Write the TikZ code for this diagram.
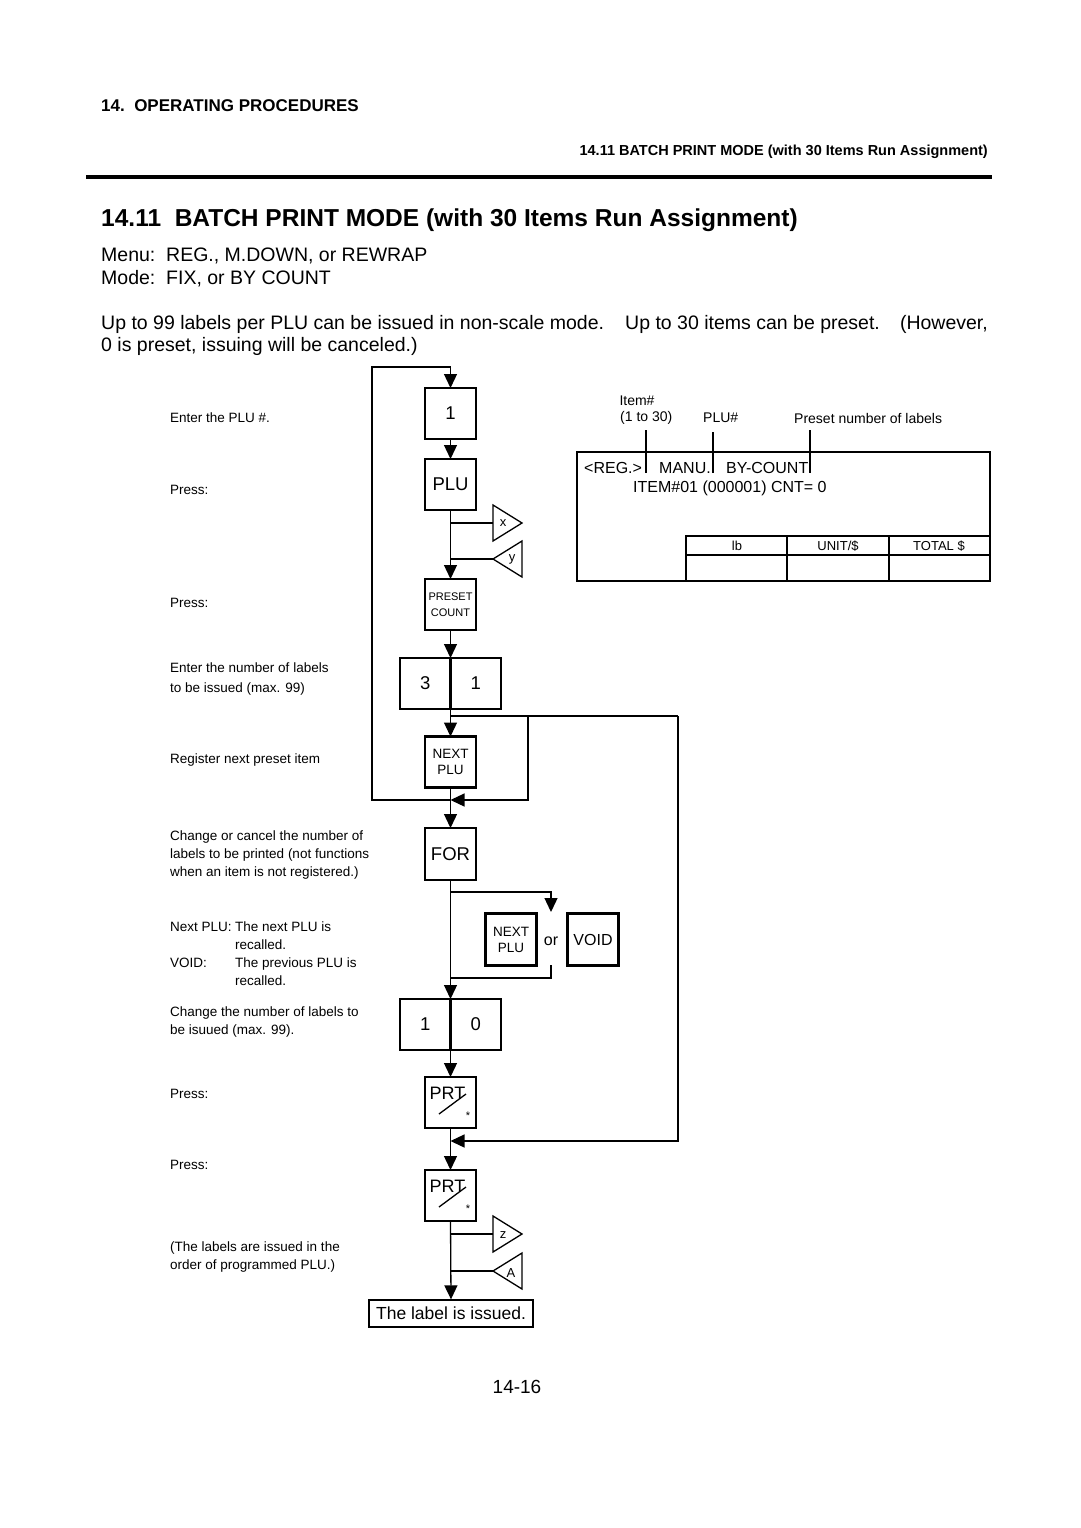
\documentclass[tikz,border=0pt]{standalone}
\usepackage{fontspec}
\setmainfont{Liberation Sans}
\usetikzlibrary{arrows.meta}
\begin{document}
\begin{tikzpicture}[x=1pt,y=-1pt,
  thinl/.style={line width=1.3pt},
  flow/.style={line width=1.3pt,-{Triangle[width=13pt,length=14pt]}},
  keybox/.style={draw,line width=2.8pt,minimum width=51pt,minimum height=51pt,inner sep=0pt,outer sep=0pt},
  bigk/.style={keybox,font=\fontsize{18.5}{20}\selectfont},
  smallk/.style={keybox,font=\fontsize{13.5}{16}\selectfont,align=center},
  note/.style={anchor=west,inner sep=0pt,font=\fontsize{13.5}{18}\selectfont,align=left},
  disp/.style={anchor=west,inner sep=0pt,font=\fontsize{16}{18}\selectfont},
  lab/.style={inner sep=0pt,font=\fontsize{14}{17}\selectfont},
  tri/.style={line width=1.3pt,fill=white},
  trit/.style={inner sep=0pt,font=\fontsize{13}{14}\selectfont},
]
\fill[white] (0,0) rectangle (1080,1528);
\useasboundingbox (0,0) rectangle (1080,1528);

% ---------- header ----------
\node[anchor=west,inner sep=0pt,font=\bfseries\fontsize{17}{20}\selectfont] (h1) at (101,106) {14.\ \ OPERATING PROCEDURES};
\node[anchor=east,inner sep=0pt,font=\bfseries\fontsize{14.5}{17}\selectfont] (h2) at (988,152) {14.11 BATCH PRINT MODE (with 30 Items Run Assignment)};
\draw[line width=3.5pt] (86,177) -- (992,177);
\node[anchor=west,inner sep=0pt,font=\bfseries\fontsize{24.5}{28}\selectfont] (title) at (101,220) {14.11\ \ BATCH PRINT MODE (with 30 Items Run Assignment)};
\node[anchor=west,inner sep=0pt,font=\fontsize{19.5}{23}\selectfont] (menu) at (101,256) {Menu:\ \ REG., M.DOWN, or REWRAP};
\node[anchor=west,inner sep=0pt,font=\fontsize{19.5}{23}\selectfont] (mode) at (101,279) {Mode:\ \ FIX, or BY COUNT};
\node[anchor=west,inner sep=0pt,font=\fontsize{19.5}{23}\selectfont] (p1a) at (101,324) {Up to 99 labels per PLU can be issued in non-scale mode.};
\node[anchor=west,inner sep=0pt,font=\fontsize{19.5}{23}\selectfont] (p1b) at (625,324) {Up to 30 items can be preset.};
\node[anchor=east,inner sep=0pt,font=\fontsize{19.5}{23}\selectfont] (p1c) at (988,324) {(However,};
\node[anchor=west,inner sep=0pt,font=\fontsize{19.5}{23}\selectfont] (p2) at (101,346) {0 is preset, issuing will be canceled.)};

% ---------- left notes ----------
\node[note] (n1) at (170,418) {Enter the PLU \#.};
\node[note] (n2) at (170,490) {Press:};
\node[note] (n3) at (170,603) {Press:};
\node[note,font=\fontsize{13.5}{20}\selectfont] (n4) at (170,679) {Enter the number of labels\\to be issued (max. 99)};
\node[note] (n5) at (170,760) {Register next preset item};
\node[note] (n6) at (170,855) {Change or cancel the number of\\labels to be printed (not functions\\when an item is not registered.)};
\node[note] (n7a) at (170,927) {Next PLU:};
\node[note] (n7b) at (235,936) {The next PLU is\\recalled.};
\node[note] (n7c) at (170,963) {VOID:};
\node[note] (n7d) at (235,972) {The previous PLU is\\recalled.};
\node[note] (n8) at (170,1022) {Change the number of labels to\\be isuued (max. 99).};
\node[note] (n9) at (170,1094) {Press:};
\node[note] (n10) at (170,1165) {Press:};
\node[note] (n11) at (170,1257) {(The labels are issued in the\\order of programmed PLU.)};

% ---------- keys ----------
\node[bigk] (k1) at (450.5,413.5) {1};
\node[bigk] (plu) at (450.5,484.5) {PLU};
\node[keybox,font=\fontsize{11}{16}\selectfont,align=center] (preset) at (450.5,604.5) {PRESET\\COUNT};
\node[bigk,minimum width=50.5pt] (k3) at (425.25,683.5) {3};
\node[bigk,minimum width=50.5pt] (k1b) at (475.75,683.5) {1};
\node[smallk] (next1) at (450.5,762) {NEXT\\PLU};
\node[bigk,minimum height=52pt] (for) at (450.5,854) {FOR};
\node[smallk,minimum height=52pt] (next2) at (511,939.5) {NEXT\\PLU};
\node[inner sep=0pt,font=\fontsize{16}{18}\selectfont] (or) at (551,941) {or};
\node[keybox,minimum height=52pt,font=\fontsize{16}{18}\selectfont] (void) at (593,939.5) {VOID};
\node[bigk,minimum width=50.5pt] (k1c) at (425.25,1024.5) {1};
\node[bigk,minimum width=50.5pt] (k0) at (475.75,1024.5) {0};
\node[keybox] (prt1) at (450.5,1102.5) {};
\node[keybox] (prt2) at (450.5,1195.5) {};
\node[draw,line width=1.3pt,minimum width=164pt,minimum height=27pt,inner sep=0pt,font=\fontsize{17.5}{20}\selectfont] (issued) at (451,1313.5) {The label is issued.};

\foreach \p in {prt1,prt2}{
  \node[inner sep=0pt,font=\fontsize{18}{20}\selectfont] (\p t) at ([shift={(-3,-9)}]\p.center) {PRT};
  \draw[thinl] ([shift={(-11.5,11.5)}]\p.center) -- ([shift={(15.5,-8.5)}]\p.center);
  \node[inner sep=0pt,font=\fontsize{11}{12}\selectfont] (\p s) at ([shift={(17.5,13)}]\p.center) {*};
}

% ---------- coordinates ----------
\coordinate (top) at (450.5,367);
\coordinate (topl) at (372,367);
\coordinate (botl) at (372,800);
\coordinate (j800) at (450.5,800);
\coordinate (jr) at (528,800);
\coordinate (b716) at (450.5,716);
\coordinate (r716) at (528,716);
\coordinate (rr716) at (678,716);
\coordinate (rr1141) at (678,1141);
\coordinate (j1141) at (450.5,1141);
\coordinate (f892) at (450.5,892);
\coordinate (o892) at (551,892);
\coordinate (o912) at (551,912);
\coordinate (o965) at (551,965);
\coordinate (o978) at (551,978);
\coordinate (f978) at (450.5,978);
\coordinate (bx) at (450.5,523);
\coordinate (by) at (450.5,559);
\coordinate (bz) at (450.5,1234);
\coordinate (bA) at (450.5,1271);

% ---------- main flow ----------
\draw[flow] (j800) -- (botl) -- (topl) -- (top) -- (k1.north);
\draw[flow] (k1.south) -- (plu.north);
\draw[flow] (plu.south) -- (preset.north);
\draw[flow] (preset.south) -- (k3.north east);
\draw[flow] (k3.south east) -- (next1.north);
\draw[flow] (next1.south) -- (for.north);
\draw[flow] (r716) -- (jr) -- (j800);
\draw[thinl] (b716) -- (rr716);
\draw[flow] (rr716) -- (rr1141) -- (j1141);
\draw[flow] (for.south) -- (k1c.north east);
\draw[flow] (f892) -- (o892) -- (o912);
\draw[thinl] (o965) -- (o978) -- (f978);
\draw[flow] (k1c.south east) -- (prt1.north);
\draw[flow] (prt1.south) -- (prt2.north);
\draw[flow] (prt2.south) -- (issued.north);

% ---------- x / y / z / A triangles ----------
\draw[thinl] (bx) -- (493,523);
\draw[thinl] (by) -- (493,559);
\draw[tri] (493,505) -- (522,523) -- (493,541) -- cycle;
\draw[tri] (522,541) -- (493,559) -- (522,577) -- cycle;
\node[trit] (tx) at (503,523) {x};
\node[trit] (ty) at (512,559) {y};
\draw[thinl] (bz) -- (493,1234);
\draw[thinl] (bA) -- (493,1271);
\draw[tri] (493,1216) -- (522,1234) -- (493,1252) -- cycle;
\draw[tri] (522,1253) -- (493,1271) -- (522,1289) -- cycle;
\node[trit] (tz) at (503,1235) {z};
\node[trit] (tA) at (511,1273) {A};

% ---------- display ----------
\node[lab] (itm) at (637,401) {Item\#};
\node[lab,anchor=west] (itr) at (620,418) {(1 to 30)};
\node[lab,anchor=west] (plun) at (703,418) {PLU\#};
\node[lab,anchor=west] (psn) at (794,418) {Preset number of labels};
\draw[line width=1.8pt] (577,452) rectangle (990,581);
\draw[line width=1.8pt] (646,430) -- (646,473);
\draw[line width=1.8pt] (713,432) -- (713,473);
\draw[line width=1.8pt] (810,430) -- (810,473);
\node[disp] (dreg) at (584,468) {<REG.>};
\node[disp] (dman) at (659,468) {MANU.};
\node[disp] (dby) at (726,468) {BY-COUNT};
\node[disp] (dit) at (633,488) {ITEM\#01 (000001) CNT= 0};
\draw[thinl] (686,536) rectangle (990,581);
\draw[thinl] (686,555) -- (990,555);
\draw[thinl] (787,536) -- (787,581);
\draw[thinl] (889,536) -- (889,581);
\draw[line width=2.5pt] (686,581) -- (990,581);
\node[lab,font=\fontsize{13}{15}\selectfont] (tlb) at (737,546) {lb};
\node[lab,font=\fontsize{13}{15}\selectfont] (tun) at (838,546) {UNIT/\$};
\node[lab,font=\fontsize{13}{15}\selectfont] (tto) at (939,546) {TOTAL \$};

% ---------- page number ----------
\node[inner sep=0pt,font=\fontsize{19}{22}\selectfont] (pg) at (517,1387) {14-16};
\end{tikzpicture}
\end{document}
